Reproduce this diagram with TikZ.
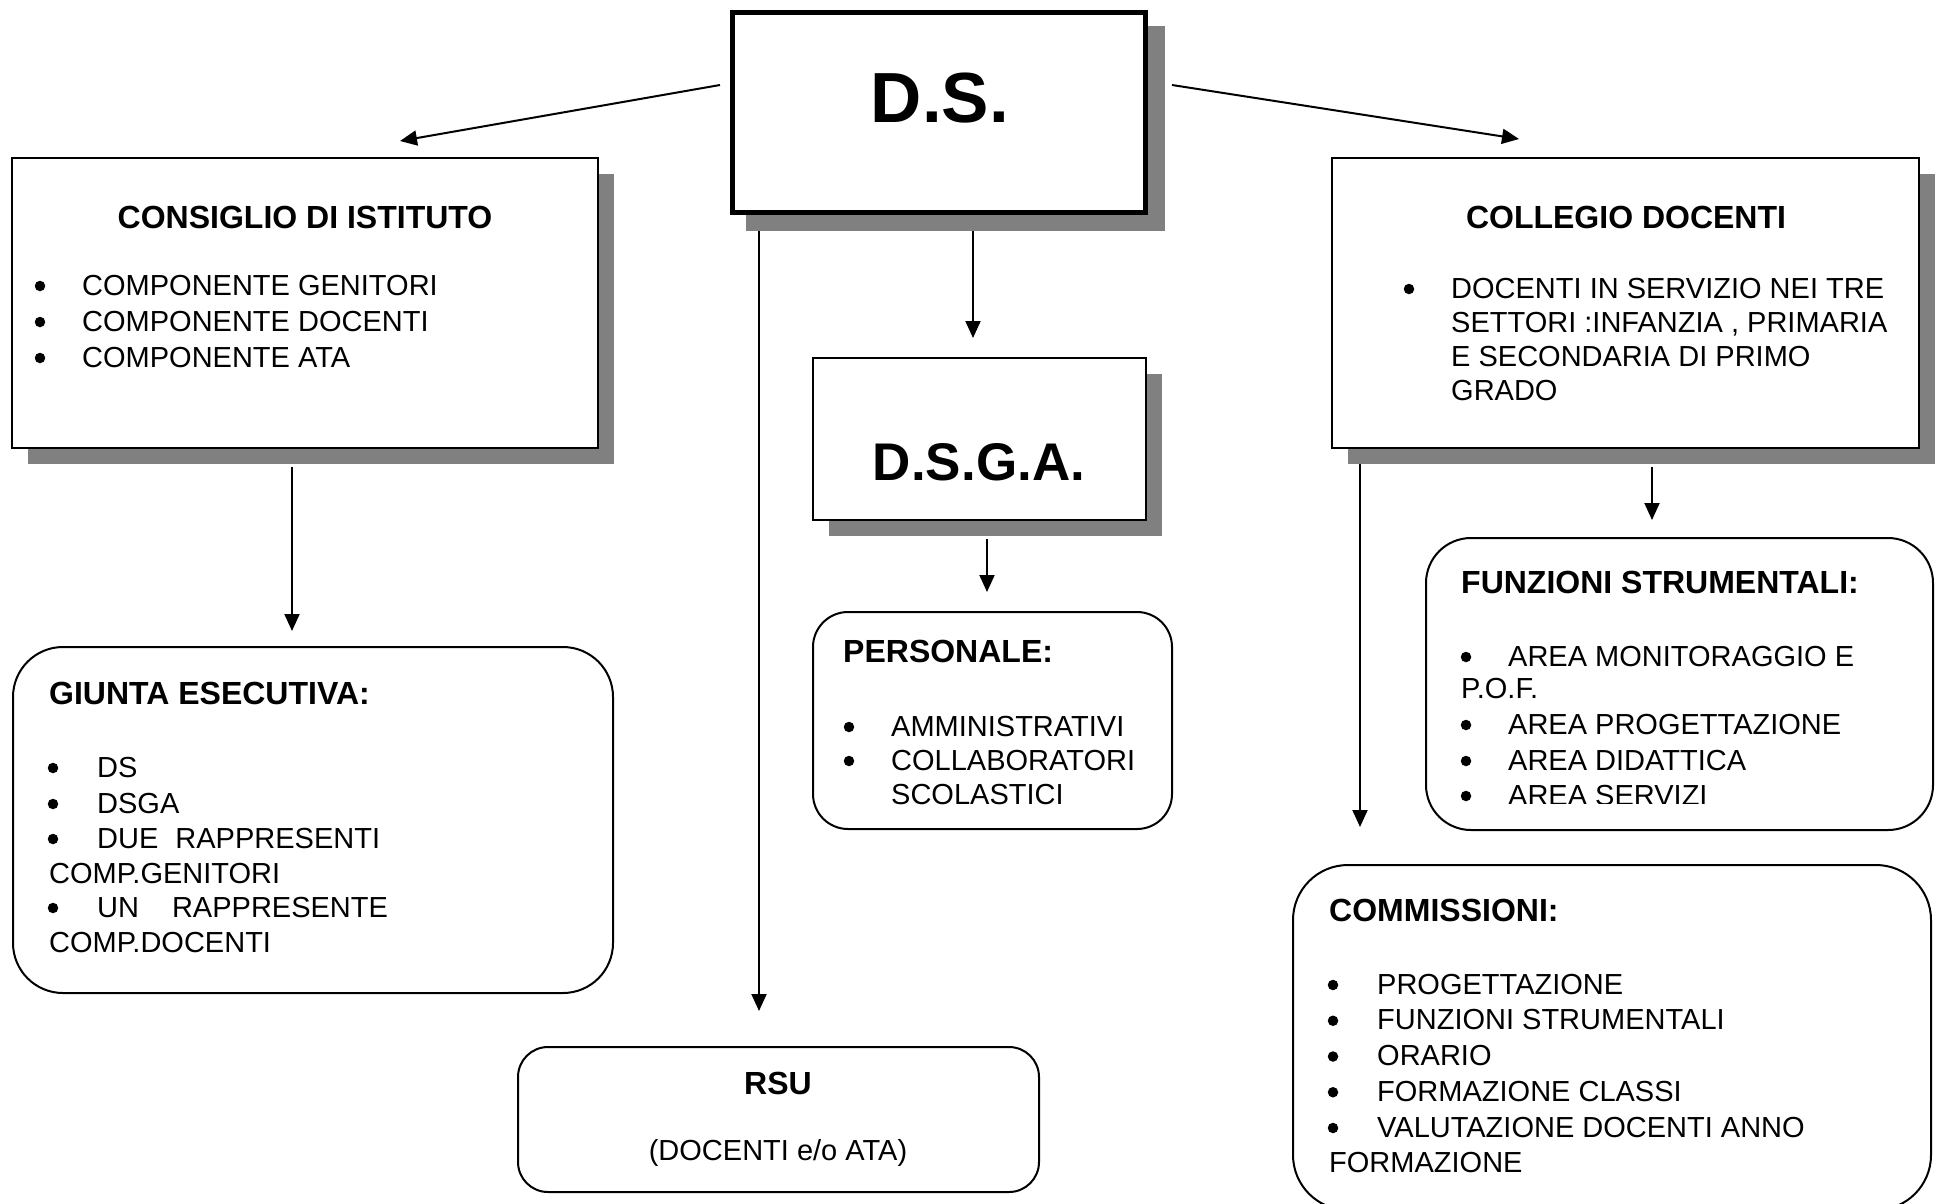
\documentclass[tikz,border=0pt]{standalone}
\usepackage{fontspec}
\setmainfont{Liberation Sans}
\usetikzlibrary{arrows.meta}
\definecolor{shadowgray}{HTML}{808080}
\begin{document}
\begin{tikzpicture}[x=1pt,y=-1pt,
  box/.style={draw=black,line width=2pt,fill=white,inner sep=0pt,outer sep=0pt},
  rbox/.style={box,rounded corners=#1},
  shade/.style={fill=shadowgray,draw=none,inner sep=0pt,outer sep=0pt},
  txt/.style={inner sep=0pt,anchor=base west,font=\fontsize{29}{35}\selectfont},
  ttl/.style={inner sep=0pt,anchor=base west,font=\bfseries\fontsize{32}{38}\selectfont},
  dot/.style={circle,fill=black,draw=none,inner sep=0pt,minimum size=10.5pt},
  conn/.style={line width=2pt,-{Triangle[length=17pt,width=15pt]}}
]
\useasboundingbox (0,0) rectangle (1941,1203);
\fill[white] (0,0) rectangle (1941,1203);

% ---------- D.S. ----------
\node[shade,minimum width=419pt,minimum height=205pt] (dsS) at (955.5,128.5) {};
\node[box,line width=5pt,minimum width=413pt,minimum height=200pt] (ds) at (939,112.5) {};
\node[inner sep=0pt,anchor=base,font=\bfseries\fontsize{71}{80}\selectfont] (dsT) at (940,122) {D.S.};

% ---------- CONSIGLIO DI ISTITUTO ----------
\node[shade,minimum width=586pt,minimum height=290pt] (ciS) at (321,319) {};
\node[box,minimum width=586pt,minimum height=290pt] (ci) at (305,303) {};
\node[ttl,anchor=base] (ciT) at (305,228) {CONSIGLIO DI ISTITUTO};
\foreach \t [count=\i] in {COMPONENTE GENITORI,COMPONENTE DOCENTI,COMPONENTE ATA} {
  \node[dot] (cib\i) at ({40},{295+36*(\i-1)-9}) {};
  \node[txt] (cit\i) at ({82},{295+36*(\i-1)}) {\t};
}

% ---------- COLLEGIO DOCENTI ----------
\node[shade,minimum width=587pt,minimum height=290pt] (cdS) at (1641.5,319) {};
\node[box,minimum width=587pt,minimum height=290pt] (cd) at (1625.5,303) {};
\node[ttl,anchor=base] (cdT) at (1626,228) {COLLEGIO DOCENTI};
\node[dot] (cdb1) at (1409,289) {};
\foreach \t [count=\i] in {DOCENTI IN SERVIZIO NEI TRE,SETTORI :INFANZIA {,} PRIMARIA,E SECONDARIA DI PRIMO,GRADO} {
  \node[txt] (cdt\i) at ({1451},{298+34*(\i-1)}) {\t};
}

% ---------- D.S.G.A. ----------
\node[shade,minimum width=333pt,minimum height=162pt] (dgS) at (995.5,455) {};
\node[box,minimum width=333pt,minimum height=162pt] (dg) at (979.5,439) {};
\node[inner sep=0pt,anchor=base,font=\bfseries\fontsize{53}{60}\selectfont] (dgT) at (979,480) {D.S.G.A.};

% ---------- PERSONALE ----------
\node[rbox=35pt,minimum width=359pt,minimum height=217pt] (pe) at (992.5,720.5) {};
\node[ttl] (peT) at (843,662) {PERSONALE:};
\node[dot] (peb1) at (849,727) {};
\node[dot] (peb2) at (849,761) {};
\node[txt] (pet1) at (891,736) {AMMINISTRATIVI};
\node[txt] (pet2) at (891,770) {COLLABORATORI};
\node[txt] (pet3) at (891,804) {SCOLASTICI};

% ---------- GIUNTA ESECUTIVA ----------
\node[rbox=50pt,minimum width=600pt,minimum height=346pt] (gi) at (313,820) {};
\node[ttl] (giT) at (49,704) {GIUNTA ESECUTIVA:};
\node[dot] (gib1) at (53,768) {};
\node[dot] (gib2) at (53,804) {};
\node[dot] (gib3) at (53,839) {};
\node[dot] (gib4) at (53,908) {};
\node[txt] (git1) at (97,777) {DS};
\node[txt] (git2) at (97,813) {DSGA};
\node[txt] (git3) at (97,848) {DUE\hspace{17pt}RAPPRESENTI};
\node[txt] (git4) at (49,883) {COMP.GENITORI};
\node[txt] (git5) at (97,917) {UN\hspace{33pt}RAPPRESENTE};
\node[txt] (git6) at (49,952) {COMP.DOCENTI};

% ---------- FUNZIONI STRUMENTALI ----------
\node[rbox=45pt,minimum width=507pt,minimum height=292pt] (fs) at (1679.5,684) {};
\node[ttl] (fsT) at (1461,593) {FUNZIONI STRUMENTALI:};
\node[dot] (fsb1) at (1466,657) {};
\node[dot] (fsb2) at (1466,725) {};
\node[dot] (fsb3) at (1466,761) {};
\node[dot] (fsb4) at (1466,796) {};
\node[txt] (fst1) at (1508,666) {AREA MONITORAGGIO E};
\node[txt] (fst2) at (1461,698) {P.O.F.};
\node[txt] (fst3) at (1508,734) {AREA PROGETTAZIONE};
\node[txt] (fst4) at (1508,770) {AREA DIDATTICA};
\begin{scope}
  \clip (1440,770) rectangle (1900,803);
  \node[txt] (fst5) at (1508,805) {AREA SERVIZI};
\end{scope}

% ---------- COMMISSIONI ----------
\node[rbox=55pt,minimum width=638pt,minimum height=345pt] (co) at (1612,1037.5) {};
\node[ttl] (coT) at (1329,921) {COMMISSIONI:};
\foreach \t [count=\i] in {PROGETTAZIONE,FUNZIONI STRUMENTALI,ORARIO,FORMAZIONE CLASSI,VALUTAZIONE DOCENTI ANNO} {
  \node[dot] (cob\i) at ({1333},{994+35.75*(\i-1)-9}) {};
  \node[txt] (cot\i) at ({1377},{994+35.75*(\i-1)}) {\t};
}
\node[txt] (cot6) at (1329,1172) {FORMAZIONE};

% ---------- RSU ----------
\node[rbox=30pt,minimum width=521pt,minimum height=145pt] (rs) at (778.5,1119.5) {};
\node[inner sep=0pt,anchor=base,font=\bfseries\fontsize{32}{38}\selectfont] (rsT) at (778,1094) {RSU};
\node[inner sep=0pt,anchor=base,font=\fontsize{29}{35}\selectfont] (rsT2) at (778,1160) {(DOCENTI e/o ATA)};

% ---------- connectors ----------
\coordinate (a1s) at (720,85);   \coordinate (a1e) at (400,141);
\coordinate (a2s) at (1172,85);  \coordinate (a2e) at (1519,139);
\coordinate (a3s) at (973,231);  \coordinate (a3e) at (973,338);
\coordinate (a4s) at (759,231);  \coordinate (a4e) at (759,1011);
\coordinate (a5s) at (292,467);  \coordinate (a5e) at (292,631);
\coordinate (a6s) at (987,539);  \coordinate (a6e) at (987,592);
\coordinate (a7s) at (1360,464); \coordinate (a7e) at (1360,827);
\coordinate (a8s) at (1652,467); \coordinate (a8e) at (1652,520);
\draw[conn] (a1s) -- (a1e);
\draw[conn] (a2s) -- (a2e);
\draw[conn] (a3s) -- (a3e);
\draw[conn] (a4s) -- (a4e);
\draw[conn] (a5s) -- (a5e);
\draw[conn] (a6s) -- (a6e);
\draw[conn] (a7s) -- (a7e);
\draw[conn] (a8s) -- (a8e);
\end{tikzpicture}
\end{document}
